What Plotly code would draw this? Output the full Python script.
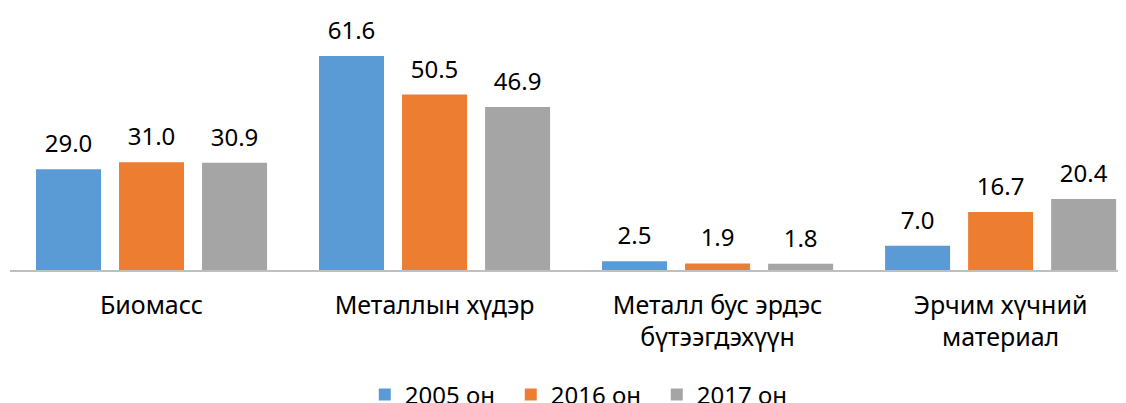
import plotly.graph_objects as go

categories = ["Биомасс", "Металлын хүдэр", "Металл бус эрдэс<br>бүтээгдэхүүн", "Эрчим хүчний<br>материал"]
series_names = ["2005 он", "2016 он", "2017 он"]
v2005 = [29.0, 61.6, 2.5, 7.0]
v2016 = [31.0, 50.5, 1.9, 16.7]
v2017 = [30.9, 46.9, 1.8, 20.4]
colors = ["#5B9BD5", "#ED7D31", "#A5A5A5"]

FONT = "Noto Sans"
fig = go.Figure()
for i, (name, vals, c) in enumerate(zip(series_names, [v2005, v2016, v2017], colors)):
    fig.add_trace(go.Bar(
        x=categories, y=vals, name=name, offsetgroup=str(i),
        marker=dict(color=c, line=dict(width=0)),
    ))
for i, vals in enumerate([v2005, v2016, v2017]):
    fig.add_trace(go.Scatter(
        x=categories, y=vals, mode="markers+text", offsetgroup=str(i),
        text=[f"{v:.1f}" for v in vals], textposition="top center",
        textfont=dict(family=FONT, size=24, color="#000000"),
        marker=dict(size=16, opacity=0), showlegend=False, hoverinfo="skip",
        cliponaxis=False,
    ))

fig.update_layout(
    width=1118, height=395,
    margin=dict(l=2, r=0, t=0, b=133, autoexpand=False),
    paper_bgcolor="white", plot_bgcolor="white",
    barmode="group", bargap=0.12, bargroupgap=0.217,
    scattermode="group", scattergap=0.12,
    font=dict(family=FONT, size=24, color="#000000"),
    showlegend=True,
    legend=dict(orientation="h", x=0.515, xanchor="center", xref="container",
                y=0.0205, yanchor="middle", yref="container",
                font=dict(family=FONT, size=24), traceorder="normal",
                itemwidth=30, tracegroupgap=0, entrywidth=101, entrywidthmode="pixels"),
)
fig.update_xaxes(type="category", range=[-0.5, 3.443], showline=True, linecolor="#BFBFBF",
                 linewidth=1.5, ticks="", tickfont=dict(family=FONT, size=25), showgrid=False,
                 automargin=False, ticklabelstandoff=12)
fig.update_yaxes(range=[0, 75.4], visible=False, showgrid=False, zeroline=False, automargin=False)

fig.write_html("out.html")
